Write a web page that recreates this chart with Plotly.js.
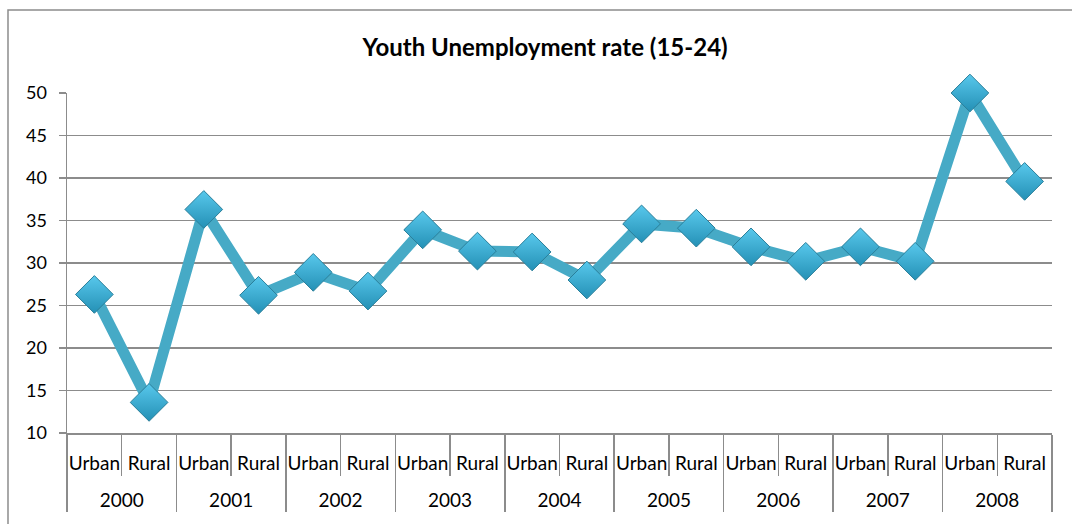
<!DOCTYPE html>
<html>
<head>
<meta charset="utf-8">
<script src="https://cdn.plot.ly/plotly-3.0.1.min.js"></script>
<style>
  html, body { margin: 0; padding: 0; background: #fff; }
  #chart { width: 1072px; height: 524px; }
</style>
</head>
<body>
<div id="chart"></div>
<script>
const years = ["2000","2000","2001","2001","2002","2002","2003","2003","2004","2004",
               "2005","2005","2006","2006","2007","2007","2008","2008"];
const areas = ["Urban","Rural","Urban","Rural","Urban","Rural","Urban","Rural","Urban","Rural",
               "Urban","Rural","Urban","Rural","Urban","Rural","Urban","Rural"];
const rates = [26.3, 13.6, 36.3, 26.2, 28.9, 26.7, 33.9, 31.4, 31.3, 28.0,
               34.6, 34.1, 31.9, 30.2, 31.9, 30.2, 50.0, 39.6];

const FONT = "Lato, 'Open Sans', sans-serif";
const GRID = "#8c8c8c";

// inner-level labels get an empty second line so the year row sits lower
const areaLabels = areas.map(a => a + "<br>&nbsp;");

const trace = {
  type: "scatter",
  mode: "lines+markers",
  x: [years, areaLabels],
  y: rates,
  line: { color: "#46aac6", width: 11 },
  marker: {
    symbol: "diamond",
    size: 29,
    color: "#58c8ec",
    gradient: { type: "vertical", color: "#2490b5" },
    line: { color: "#2a7f9a", width: 1 }
  },
  hoverinfo: "y",
  cliponaxis: false
};

const layout = {
  width: 1072, height: 524,
  margin: { l: 67, r: 20, t: 93, b: 91, autoexpand: false },
  paper_bgcolor: "#ffffff",
  plot_bgcolor: "#ffffff",
  showlegend: false,
  title: {
    text: "<b>Youth Unemployment rate (15-24)</b>",
    font: { family: FONT, size: 24, color: "#000" },
    x: 0.5085, xanchor: "center",
    y: 0.91, yanchor: "middle"
  },
  xaxis: {
    type: "multicategory",
    range: [-0.5, 17.5], autorange: false,
    automargin: false,
    tickangle: 0,
    showline: true, linecolor: GRID, linewidth: 1.5,
    ticks: "outside", tickson: "boundaries", ticklen: 41, tickcolor: GRID, tickwidth: 1.5,
    ticklabelstandoff: 13,
    showdividers: true, dividercolor: GRID, dividerwidth: 1.5,
    showgrid: false, zeroline: false,
    tickfont: { family: FONT, size: 19, color: "#000" }
  },
  yaxis: {
    range: [10, 50], dtick: 5, tick0: 10,
    automargin: false,
    showline: true, linecolor: GRID, linewidth: 1.5,
    ticks: "outside", ticklen: 7, tickcolor: GRID, tickwidth: 1.5,
    ticklabelstandoff: 8,
    showgrid: true, gridcolor: GRID, gridwidth: 1.5,
    zeroline: false,
    tickfont: { family: FONT, size: 18, color: "#000" }
  },
  shapes: [{
    type: "rect", xref: "paper", yref: "paper",
    x0: -0.0599, x1: 1.2, y0: -0.4, y1: 1.244,
    line: { color: "#8c8c8c", width: 1.5 },
    fillcolor: "rgba(0,0,0,0)", layer: "below"
  }]
};

Plotly.newPlot("chart", [trace], layout, { displayModeBar: false, staticPlot: true });
</script>
</body>
</html>
